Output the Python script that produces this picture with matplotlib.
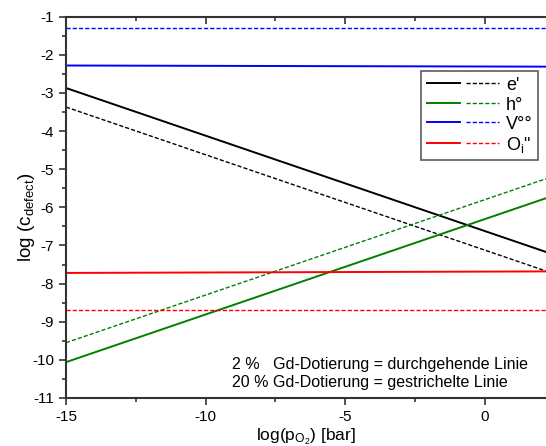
import numpy as np
import matplotlib.pyplot as plt
from matplotlib.legend_handler import HandlerTuple

plt.rcParams['font.family'] = ['Liberation Sans', 'DejaVu Sans']
plt.rcParams['mathtext.fontset'] = 'custom'
plt.rcParams['mathtext.rm'] = 'Liberation Sans'
plt.rcParams['mathtext.it'] = 'Liberation Sans'
plt.rcParams['axes.unicode_minus'] = False

# log(pO2) Endpunkte
log_p = [-15, 2.2]

# 2 % Gd (durchgehend)
e_2 = [-2.87, -7.17]
h_2 = [-10.06, -5.76]
v_2 = [-2.28, -2.31]
o_2 = [-7.72, -7.68]

# 20 % Gd (gestrichelt)
e_20 = [-3.37, -7.67]
h_20 = [-9.55, -5.25]
v_20 = [-1.30, -1.30]
o_20 = [-8.68, -8.68]

labels = ["e'", "h°", "V°°", 'O$_\\mathrm{i}$"']
colors = ['black', '#008000', '#0000ff', '#ff0000']

fig = plt.figure(figsize=(5.46, 4.46), dpi=100)
ax = fig.add_axes([66 / 546, 1 - 398 / 446, 480 / 546, (398 - 16.7) / 446])

handles = []
for ys, yd, c in zip([e_2, h_2, v_2, o_2], [e_20, h_20, v_20, o_20], colors):
    l1, = ax.plot(log_p, ys, color=c, lw=1.4)
    l2, = ax.plot(log_p, yd, color=c, lw=1.0, ls=(0, (3, 1.5)))
    handles.append((l1, l2))

ax.set_xlim(-15, 2.2)
ax.set_ylim(-11, -1)
ax.set_xticks([-15, -10, -5, 0])
ax.set_xticks([-12.5, -7.5, -2.5], minor=True)
ax.set_yticks(np.arange(-11, 0, 1))
ax.set_yticks(np.arange(-10.5, -1, 1), minor=True)
ax.tick_params(which='both', labelsize=11, direction='out', top=True, width=1.2, color='#333333')
ax.tick_params(which='major', length=5)
ax.tick_params(which='minor', length=3)
# Ticks am oberen Rand nach innen
for t in ax.xaxis.get_major_ticks() + ax.xaxis.get_minor_ticks():
    t.tick2line.set_marker(3)
ax.spines['right'].set_visible(False)
for s in ['left', 'bottom', 'top']:
    ax.spines[s].set_linewidth(1.5)
    ax.spines[s].set_color('#333333')

ax.set_xlabel('log(p$_{\\mathrm{O_2}}$) [bar]', fontsize=12.5, labelpad=2)
ax.set_ylabel('log (c$_\\mathrm{defect}$)', fontsize=13.5)
ax.yaxis.set_label_coords(-0.06, 0.475)

leg = ax.legend(handles, labels, handler_map={tuple: HandlerTuple(ndivide=2, pad=0.35)},
                loc='upper left', bbox_to_anchor=(0.74, 0.858), borderaxespad=0,
                fancybox=False, edgecolor='#333333', fontsize=13, handlelength=4.0,
                handletextpad=0.4, labelspacing=0.1, borderpad=0.3,
                handleheight=0.9)
leg.get_frame().set_linewidth(1.2)

ax.text(-9.05, -10.12, '2 %   Gd-Dotierung = durchgehende Linie', fontsize=11.5, va='center')
ax.text(-9.05, -10.6, '20 % Gd-Dotierung = gestrichelte Linie', fontsize=11.5, va='center')

fig.savefig('out.png', dpi=100)
